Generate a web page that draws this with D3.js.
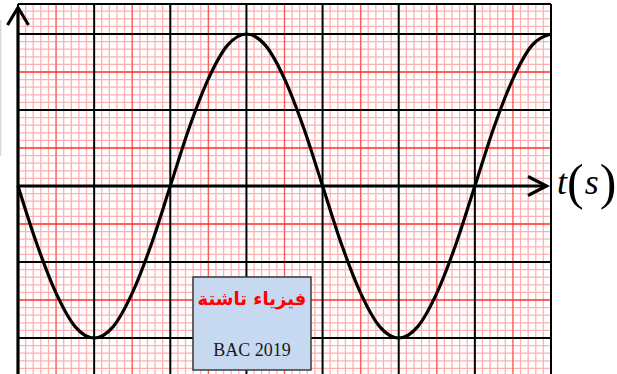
<!DOCTYPE html>
<html>
<head>
<meta charset="utf-8">
<script src="https://cdn.jsdelivr.net/npm/d3@7/dist/d3.min.js"></script>
<style>
  html, body { margin: 0; padding: 0; background: #fff; }
  svg { display: block; }
</style>
</head>
<body>
<script>
// Time in major divisions and signal value in major divisions
const tValues = [0, 0.25, 0.5, 0.75, 1, 1.25, 1.5, 1.75, 2, 2.25, 2.5, 2.75, 3, 3.25, 3.5,
                 3.75, 4, 4.25, 4.5, 4.75, 5, 5.25, 5.5, 5.75, 6, 6.25, 6.5, 6.75, 7];
const uValues = [0, -0.77, -1.41, -1.85, -2, -1.85, -1.41, -0.77, 0, 0.77, 1.41, 1.85, 2, 1.85, 1.41,
                 0.77, 0, -0.77, -1.41, -1.85, -2, -1.85, -1.41, -0.77, 0, 0.77, 1.41, 1.85, 2];
const axisLabel = ["t", "(", "s", ")"];
const badgeTitle = "فيزياء تاشتة";
const badgeSub = "BAC 2019";

const W = 617, H = 374;
const svg = d3.select("body").append("svg").attr("width", W).attr("height", H);

const x = d3.scaleLinear().domain([0, 7]).range([18, 551]);
const y = d3.scaleLinear().domain([0, 2]).range([186, 34]);
const yTop = y.invert(4), yBot = y.invert(H + 2);

// faint edge line at far left
svg.append("line").attr("x1", 0.5).attr("x2", 0.5).attr("y1", 20).attr("y2", 156)
  .attr("stroke", "#d8d8d8").attr("stroke-width", 1.5);

const grid = svg.append("g");
// minor grid (every tenth of a division)
const minorX = d3.range(0, 70 + 1).map(i => i / 10);
const minorY = d3.range(Math.ceil(yBot * 10), Math.floor(yTop * 10) + 1).map(i => i / 10);
const isInt = v => Math.abs(v - Math.round(v)) < 1e-6;
const isHalf = v => !isInt(v) && Math.abs(v * 2 - Math.round(v * 2)) < 1e-6;

grid.selectAll("line.mx").data(minorX.filter(v => !isInt(v) && !isHalf(v))).join("line")
  .attr("x1", d => x(d)).attr("x2", d => x(d)).attr("y1", 4).attr("y2", H)
  .attr("stroke", "#ffb0b0").attr("stroke-width", 1.3);
grid.selectAll("line.my").data(minorY.filter(v => !isInt(v) && !isHalf(v))).join("line")
  .attr("y1", d => y(d)).attr("y2", d => y(d)).attr("x1", 18).attr("x2", x(7))
  .attr("stroke", "#ffb0b0").attr("stroke-width", 1.3);
// half-division lines
grid.selectAll("line.hx").data(minorX.filter(isHalf)).join("line")
  .attr("x1", d => x(d)).attr("x2", d => x(d)).attr("y1", 4).attr("y2", H)
  .attr("stroke", "#ff5a5a").attr("stroke-width", 1.4);
grid.selectAll("line.hy").data(minorY.filter(isHalf)).join("line")
  .attr("y1", d => y(d)).attr("y2", d => y(d)).attr("x1", 18).attr("x2", x(7))
  .attr("stroke", "#ff2a2a").attr("stroke-width", 1.4);
// major divisions
grid.selectAll("line.Mx").data(minorX.filter(isInt)).join("line")
  .attr("x1", d => x(d)).attr("x2", d => x(d)).attr("y1", 4).attr("y2", H)
  .attr("stroke", "#000").attr("stroke-width", 2);
grid.selectAll("line.My").data(minorY.filter(v => isInt(v) && v !== 0)).join("line")
  .attr("y1", d => y(d)).attr("y2", d => y(d)).attr("x1", 18).attr("x2", x(7))
  .attr("stroke", "#000").attr("stroke-width", 2);
// top frame edge
grid.append("line").attr("x1", 18).attr("x2", x(7)).attr("y1", 4).attr("y2", 4)
  .attr("stroke", "#000").attr("stroke-width", 2);

// vertical axis with arrow
svg.append("line").attr("x1", 18).attr("x2", 18).attr("y1", 8).attr("y2", H)
  .attr("stroke", "#000").attr("stroke-width", 3.2);
svg.append("path").attr("d", "M7.5,25 L18,7.5 L28.5,25")
  .attr("fill", "none").attr("stroke", "#000").attr("stroke-width", 3.2);

// time axis with arrow
svg.append("line").attr("x1", 18).attr("x2", 546).attr("y1", y(0)).attr("y2", y(0))
  .attr("stroke", "#000").attr("stroke-width", 3.2);
svg.append("path").attr("d", `M528,${y(0) - 9.5} L546.5,${y(0)} L528,${y(0) + 9.5}`)
  .attr("fill", "none").attr("stroke", "#000").attr("stroke-width", 3.2);

// signal
const pts = tValues.map((t, i) => [t, uValues[i]]);
svg.append("path").datum(pts)
  .attr("d", d3.line().x(d => x(d[0])).y(d => y(d[1])).curve(d3.curveMonotoneX))
  .attr("fill", "none").attr("stroke", "#000").attr("stroke-width", 3.2)
  .attr("stroke-linejoin", "round");

// axis label t(s)
const lab = svg.append("text").attr("x", 557).attr("y", 194)
  .attr("font-family", "Liberation Serif, serif").attr("fill", "#000");
lab.append("tspan").text(axisLabel[0]).attr("font-style", "italic").attr("font-size", 36);
lab.append("tspan").text(axisLabel[1]).attr("font-size", 50).attr("dy", 5);
lab.append("tspan").text(axisLabel[2]).attr("font-style", "italic").attr("font-size", 36).attr("dy", -5).attr("dx", 1);
lab.append("tspan").text(axisLabel[3]).attr("font-size", 50).attr("dy", 5).attr("dx", 1);

// badge
svg.append("rect").attr("x", 193).attr("y", 277).attr("width", 118).attr("height", 93)
  .attr("fill", "#c6d9f1").attr("stroke", "#3a3a3a").attr("stroke-width", 1.5);
svg.append("text").attr("x", 252).attr("y", 305).attr("text-anchor", "middle")
  .attr("font-family", "DejaVu Sans, sans-serif").attr("font-weight", "bold")
  .attr("font-size", 18).attr("fill", "#ff0000").attr("direction", "rtl")
  .text(badgeTitle);
svg.append("text").attr("x", 252).attr("y", 356).attr("text-anchor", "middle")
  .attr("font-family", "Liberation Serif, serif").attr("font-size", 18).attr("fill", "#1a1a1a")
  .text(badgeSub);
</script>
</body>
</html>
